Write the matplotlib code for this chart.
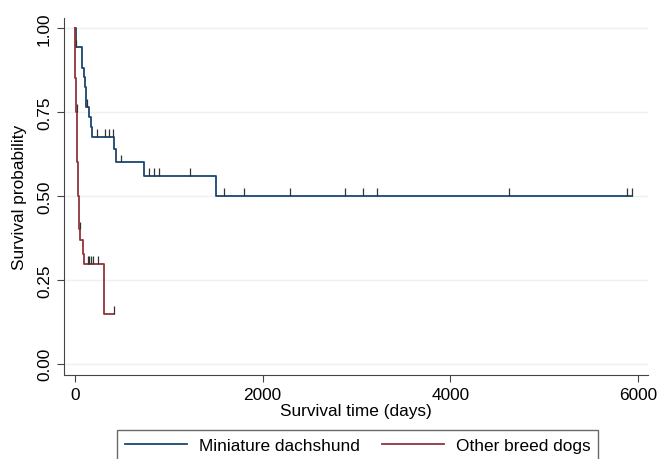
import numpy as np
import matplotlib
matplotlib.use("Agg")
import matplotlib.pyplot as plt
from matplotlib.lines import Line2D

plt.rcParams['font.family'] = ['Liberation Sans', 'DejaVu Sans']

# Kaplan-Meier steps (days, survival)
dachs_time = [0, 10, 80, 100, 115, 120, 125, 152, 178, 185, 415, 440, 735, 1500]
dachs_surv = [1.0, 0.943, 0.882, 0.853, 0.824, 0.794, 0.765, 0.735, 0.706, 0.676, 0.638, 0.600, 0.560, 0.500]
dachs_end = 5930
dachs_censored = [15, 128, 240, 320, 362, 405, 497, 791, 844, 896, 1231,
                  1585, 1801, 2288, 2880, 3065, 3222, 4628, 5880, 5929]

other_time = [0, 3, 6, 9, 12, 18, 22, 26, 30, 34, 38, 42, 48, 62, 85, 103, 316]
other_surv = [1.0, 0.95, 0.90, 0.85, 0.80, 0.75, 0.70, 0.65, 0.60, 0.55, 0.50, 0.45, 0.40,
              0.367, 0.327, 0.298, 0.149]
other_end = 418
other_censored = [20, 58, 138, 156, 173, 191, 245, 418]

groups = ["Miniature dachshund", "Other breed dogs"]
colors = ["#1a476f", "#90353b"]
FS = 12.4


def surv_at(times, surv, t):
    idx = np.searchsorted(times, t, side="right") - 1
    return np.array(surv)[idx]


def draw_km(ax, times, surv, end, censored, color):
    ax.step(times + [end], surv + [surv[-1]], where="post", color=color, lw=1.3, zorder=3)
    lvl = surv_at(times, surv, censored)
    ax.vlines(censored, lvl, lvl + 0.022, color="#333333", lw=0.9, zorder=4)


fig = plt.figure(figsize=(6.59, 4.6), dpi=100)
ax = fig.add_axes([0.097, 0.183, 0.886, 0.776])

draw_km(ax, dachs_time, dachs_surv, dachs_end, dachs_censored, colors[0])
draw_km(ax, other_time, other_surv, other_end, other_censored, colors[1])

ax.set_xlim(-114, 6100)
ax.set_ylim(-0.033, 1.03)
ax.set_yticks([0, 0.25, 0.5, 0.75, 1.0])
ax.set_yticklabels(["0.00", "0.25", "0.50", "0.75", "1.00"], rotation=90, va="center")
ax.set_xticks([0, 2000, 4000, 6000])
for y in [0, 0.25, 0.5, 0.75, 1.0]:
    ax.axhline(y, color="#eaf2f3", lw=1, zorder=1)

for s in ["top", "right"]:
    ax.spines[s].set_visible(False)
for s in ["left", "bottom"]:
    ax.spines[s].set_color("#444444")
ax.tick_params(colors="#444444", labelcolor="black", labelsize=FS, length=5)

ax.set_xlabel("Survival time (days)", fontsize=FS, labelpad=1)
ax.set_ylabel("Survival probability", fontsize=FS, labelpad=7)

handles = [Line2D([], [], color=c, lw=1.3) for c in colors]
leg = ax.legend(handles, groups, loc="upper center", bbox_to_anchor=(0.5425, 0.063),
                bbox_transform=fig.transFigure, ncol=2, fontsize=FS, frameon=True,
                fancybox=False, handlelength=3.6, handletextpad=0.7, columnspacing=1.3,
                borderpad=0.45, borderaxespad=0)
leg.get_frame().set_edgecolor("#444444")
leg.get_frame().set_linewidth(1)

fig.savefig("out.png", dpi=100)
